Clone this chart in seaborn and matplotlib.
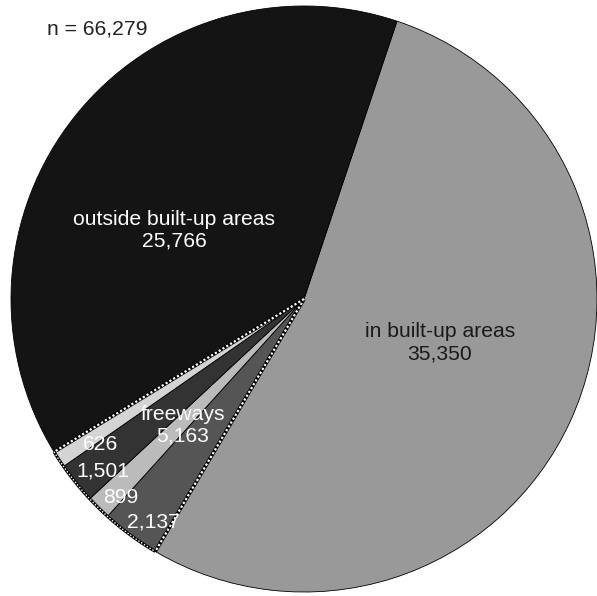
import numpy as np
import matplotlib
matplotlib.use("Agg")
import matplotlib.pyplot as plt
import seaborn as sns

sns.set_theme(style="white")
plt.rcParams['font.family'] = ['Liberation Sans', 'DejaVu Sans']

labels = ["in built-up areas", "2,137", "899", "1,501", "626", "outside built-up areas"]
values = [35350, 2137, 899, 1501, 626, 25766]
colors = ["#999999", "#555555", "#bbbbbb", "#333333", "#d4d4d4", "#141414"]
total_label = "n = 66,279"
freeway_label = "freeways\n5,163"

W, H = 597, 596
cx, cy, R = 304, 299, 293
FS = 15.2

fig = plt.figure(figsize=(W / 100, H / 100), dpi=100)
ax = fig.add_axes([0, 0, 1, 1])

wedges, _ = ax.pie(values, colors=colors, startangle=71.5, counterclock=False,
                   radius=1, wedgeprops=dict(edgecolor="black", linewidth=0.6))
ax.set_aspect("equal")
ax.set_xlim(-cx / R, (W - cx) / R)
ax.set_ylim(-(H - cy) / R, cy / R)
ax.axis("off")

# dotted boundaries of freeway group
for ang in (wedges[1].theta2, wedges[4].theta1):
    t = np.deg2rad(ang)
    xs = [0, np.cos(t)]
    ys = [0, np.sin(t)]
    ax.plot(xs, ys, color="black", lw=2.6, solid_capstyle="butt")
    ax.plot(xs, ys, color="white", lw=1.6, dashes=(1, 1))
th = np.linspace(wedges[4].theta1, wedges[1].theta2, 100)
tr = np.deg2rad(th)
ax.plot(np.cos(tr), np.sin(tr), color="black", lw=2.2, solid_capstyle="butt")
ax.plot(np.cos(tr), np.sin(tr), color="white", lw=1.0, dashes=(1, 1.4))

# labels
ax.text(0.464, -0.15, "in built-up areas\n35,350", ha="center", va="center",
        fontsize=FS, color="#1a1a1a", linespacing=1.2)
ax.text(-0.444, 0.235, "outside built-up areas\n25,766", ha="center", va="center",
        fontsize=FS, color="white", linespacing=1.2)
ax.text(-0.413, -0.43, freeway_label, ha="center", va="center",
        fontsize=FS, color="white", linespacing=1.15)

small_pos = {"2,137": (-0.512, -0.761), "899": (-0.625, -0.676),
             "1,501": (-0.686, -0.587), "626": (-0.696, -0.498)}
for w, lab in zip(wedges[1:5], labels[1:5]):
    x, y = small_pos[lab]
    ax.text(x, y, lab, ha="center", va="center", fontsize=FS, color="white")

fig.text(97 / W, 1 - 29 / H, total_label, ha="center", va="center", fontsize=FS,
         color="#222222")

fig.savefig("out.png", dpi=100)
